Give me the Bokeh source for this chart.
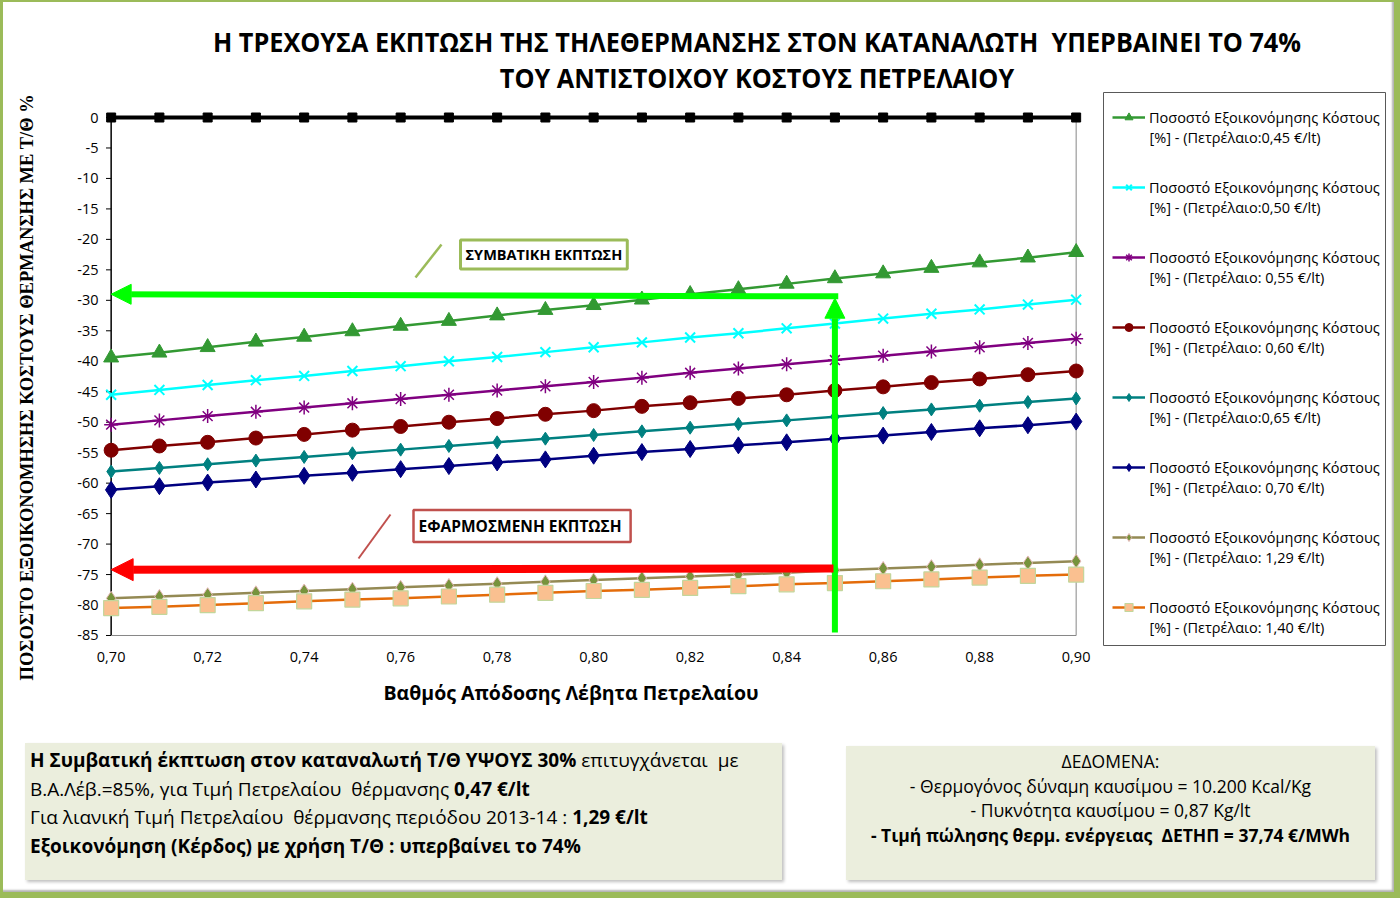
from bokeh.plotting import figure
from bokeh.models import (ColumnDataSource, Legend, LegendItem, Arrow, NormalHead, Label,
                          FixedTicker, Div, Range1d, Title)
from bokeh.layouts import column, row
from bokeh.embed import file_html
from bokeh.resources import INLINE

# ---------------- data ----------------
efficiency = [0.70, 0.71, 0.72, 0.73, 0.74, 0.75, 0.76, 0.77, 0.78, 0.79, 0.80,
              0.81, 0.82, 0.83, 0.84, 0.85, 0.86, 0.87, 0.88, 0.89, 0.90]
zero_ref = [0, 0, 0, 0, 0, 0, 0, 0, 0, 0, 0, 0, 0, 0, 0, 0, 0, 0, 0, 0, 0]
s045 = [-39.4, -38.6, -37.7, -36.8, -36.0, -35.1, -34.2, -33.4, -32.5, -31.6, -30.8,
        -29.9, -29.0, -28.2, -27.3, -26.4, -25.6, -24.7, -23.8, -23.0, -22.1]
s050 = [-45.5, -44.7, -43.9, -43.1, -42.4, -41.6, -40.8, -40.0, -39.3, -38.5, -37.7,
        -36.9, -36.1, -35.4, -34.6, -33.8, -33.0, -32.2, -31.5, -30.7, -29.9]
s055 = [-50.4, -49.7, -49.0, -48.3, -47.6, -46.9, -46.2, -45.5, -44.8, -44.1, -43.4,
        -42.7, -41.9, -41.2, -40.5, -39.8, -39.1, -38.4, -37.7, -37.0, -36.3]
s060 = [-54.6, -53.9, -53.3, -52.6, -52.0, -51.3, -50.7, -50.0, -49.4, -48.7, -48.1,
        -47.4, -46.8, -46.1, -45.5, -44.8, -44.2, -43.5, -42.9, -42.2, -41.6]
s065 = [-58.1, -57.5, -56.9, -56.3, -55.7, -55.1, -54.5, -53.9, -53.3, -52.7, -52.1,
        -51.5, -50.9, -50.3, -49.7, -49.1, -48.5, -47.9, -47.3, -46.7, -46.1]
s070 = [-61.1, -60.5, -59.9, -59.4, -58.8, -58.3, -57.7, -57.2, -56.6, -56.1, -55.5,
        -54.9, -54.4, -53.8, -53.3, -52.7, -52.2, -51.6, -51.0, -50.5, -49.9]
s129 = [-78.9, -78.6, -78.3, -78.0, -77.7, -77.4, -77.1, -76.8, -76.5, -76.2, -75.9,
        -75.6, -75.3, -75.0, -74.7, -74.3, -74.0, -73.7, -73.4, -73.1, -72.8]
s140 = [-80.5, -80.3, -80.0, -79.7, -79.4, -79.1, -78.9, -78.6, -78.3, -78.0, -77.7,
        -77.5, -77.2, -76.9, -76.6, -76.4, -76.1, -75.8, -75.5, -75.2, -75.0]

legend_line1 = "Ποσοστό Εξοικονόμησης Κόστους"
legend_line2 = ["[%] - (Πετρέλαιο:0,45 €/lt)", "[%] - (Πετρέλαιο:0,50 €/lt)",
                "[%] - (Πετρέλαιο: 0,55 €/lt)", "[%] - (Πετρέλαιο: 0,60 €/lt)",
                "[%] - (Πετρέλαιο:0,65 €/lt)", "[%] - (Πετρέλαιο: 0,70 €/lt)",
                "[%] - (Πετρέλαιο: 1,29 €/lt)", "[%] - (Πετρέλαιο: 1,40 €/lt)"]

x_ticks = [0.70, 0.72, 0.74, 0.76, 0.78, 0.80, 0.82, 0.84, 0.86, 0.88, 0.90]
x_tick_labels = ["0,70", "0,72", "0,74", "0,76", "0,78", "0,80", "0,82", "0,84",
                 "0,86", "0,88", "0,90"]
y_ticks = [0, -5, -10, -15, -20, -25, -30, -35, -40, -45, -50, -55, -60, -65, -70,
           -75, -80, -85]
y_tick_labels = ["0", "-5", "-10", "-15", "-20", "-25", "-30", "-35", "-40", "-45",
                 "-50", "-55", "-60", "-65", "-70", "-75", "-80", "-85"]

# annotation anchors (data units)
ref_eff = 0.85
conventional_level = [-29.35, -29.0]   # right end, left end
applied_level = [-74.0, -74.2]
arrow_bottom = -84.5

TITLE1 = "Η ΤΡΕΧΟΥΣΑ ΕΚΠΤΩΣΗ ΤΗΣ ΤΗΛΕΘΕΡΜΑΝΣΗΣ ΣΤΟΝ ΚΑΤΑΝΑΛΩΤΗ  ΥΠΕΡΒΑΙΝΕΙ ΤΟ 74%"
TITLE2 = "ΤΟΥ ΑΝΤΙΣΤΟΙΧΟΥ ΚΟΣΤΟΥΣ ΠΕΤΡΕΛΑΙΟΥ"
XLABEL = "Βαθμός Απόδοσης Λέβητα Πετρελαίου"
YLABEL = "ΠΟΣΟΣΤΟ ΕΞΟΙΚΟΝΟΜΗΣΗΣ ΚΟΣΤΟΥΣ  ΘΕΡΜΑΝΣΗΣ ΜΕ Τ/Θ %"

FONT = "Open Sans"

# ---------------- geometry (page pixels -> data) ----------------
X0, PX_PER_X = 0.698, 4825.0      # frame left value, px per unit
FRAME_LEFT_PX = 101
FRAME_BOTTOM_PX = 648
Y_TOP_PX, PX_PER_Y = 117, 6.0941  # page px of value 0, px per unit


def px_x(X):
    return X0 + (X - FRAME_LEFT_PX) / PX_PER_X


def px_y(Y):
    return (Y_TOP_PX - Y) / PX_PER_Y


FIG_W, FIG_H = 1384, 647
p = figure(width=FIG_W, height=FIG_H, output_backend="svg", toolbar_location=None,
           x_range=Range1d(X0, X0 + 1291 / PX_PER_X),
           y_range=Range1d(px_y(FRAME_BOTTOM_PX), px_y(88)),
           min_border_left=93, min_border_right=0, min_border_top=0,
           min_border_bottom=87, margin=0)
p.outline_line_color = None
p.xgrid.visible = False
p.ygrid.visible = False
p.background_fill_color = "white"
p.border_fill_color = "white"

# x axis
xa = p.xaxis[0]
xa.ticker = FixedTicker(ticks=x_ticks)
xa.major_label_overrides = dict(zip(x_ticks, x_tick_labels))
xa.axis_line_color = None
xa.major_tick_line_color = None
xa.major_tick_out = 0
xa.major_tick_in = 0
xa.minor_tick_line_color = None
xa.major_label_standoff = 3
xa.major_label_text_font = FONT
xa.major_label_text_font_size = "14.5px"
xa.major_label_text_color = "black"

# y axis
ya = p.yaxis[0]
ya.ticker = FixedTicker(ticks=y_ticks)
ya.major_label_overrides = dict(zip(y_ticks, y_tick_labels))
ya.axis_line_color = None
ya.major_tick_line_color = None
ya.major_tick_out = 0
ya.major_tick_in = 0
ya.minor_tick_line_color = None
ya.major_label_standoff = 3
ya.major_label_text_font = FONT
ya.major_label_text_font_size = "14.5px"
ya.major_label_text_color = "black"

# axis titles (placed in the side panels so they can sit off-centre like the original)
xtitle = Title(text=XLABEL, align="left", offset=383 - FRAME_LEFT_PX,
               text_font=FONT, text_font_style="bold", text_font_size="19.5px",
               text_color="black")
if "standoff" in Title.properties():
    xtitle.standoff = xtitle.standoff + 15
p.add_layout(xtitle, "below")
p.add_layout(Title(text=" ", text_font_size="19px"), "left")    # gap before y title
p.add_layout(Title(text=YLABEL, align="left", offset=-(680 - FRAME_BOTTOM_PX),
                   text_font="Liberation Serif", text_font_style="bold",
                   text_font_size="18.5px", text_color="black"), "left")

# legend frame (drawn first, under everything)
p.quad(left=[px_x(1103)], right=[px_x(1385)], top=[px_y(92)], bottom=[px_y(645)],
       fill_color="white", line_color="#595959", line_width=1)

# chart frame: left axis line, tick marks, bottom and right borders
p.segment(x0=[x_ticks[0]], y0=[y_ticks[-1]], x1=[x_ticks[0]], y1=[y_ticks[0]],
          line_color="black", line_width=1.5)
p.segment(x0=[px_x(105.5)] * len(y_ticks), y0=y_ticks,
          x1=[x_ticks[0]] * len(y_ticks), y1=y_ticks, line_color="black", line_width=1)
p.segment(x0=[x_ticks[0]], y0=[y_ticks[-1]], x1=[x_ticks[-1]], y1=[y_ticks[-1]],
          line_color="#868686", line_width=1)
p.segment(x0=[x_ticks[-1]], y0=[y_ticks[-1]], x1=[x_ticks[-1]], y1=[y_ticks[0]],
          line_color="#868686", line_width=1)

# zero reference line
zsrc = ColumnDataSource(dict(x=efficiency, y=zero_ref))
p.line("x", "y", source=zsrc, line_color="black", line_width=4)
p.scatter("x", "y", source=zsrc, marker="square", size=9, fill_color="black",
          line_color="black")

series = [
    (s045, "#339933", "triangle", 15, "#339933", "#339933", 1),
    (s050, "#00FFFF", "x", 14, "#00FFFF", "#00FFFF", 2),
    (s055, "#800080", "asterisk", 14, "#800080", "#800080", 1.5),
    (s060, "#800000", "circle", 14, "#800000", "#800000", 1),
    (s065, "#008080", "diamond", 13, "#008080", "#008080", 1),
    (s070, "#000080", "diamond", 17, "#000080", "#000080", 1),
    (s129, "#948A54", "diamond", 14, "#77933C", "#E6B9B8", 1),
    (s140, "#E46C0A", "square", 15, "#FAC090", "#C3D69B", 1.2),
]

items = []
for (vals, lc, mk, sz, fc, mlc, mlw) in series:
    src = ColumnDataSource(dict(x=efficiency, y=vals))
    ln = p.line("x", "y", source=src, line_color=lc, line_width=2.5)
    sc = p.scatter("x", "y", source=src, marker=mk, size=sz, fill_color=fc,
                   line_color=mlc, line_width=mlw)
    items.append(LegendItem(label=legend_line1, renderers=[ln, sc]))

# legend: items every 70 px, first line centred at page y 117
legend = Legend(items=items, location=(1112 - FRAME_LEFT_PX, FRAME_BOTTOM_PX - 617),
                margin=0, padding=0, spacing=50, label_height=20, glyph_height=20,
                glyph_width=33, label_standoff=4, label_text_font=FONT,
                label_text_font_size="14.5px", label_text_color="black",
                border_line_color=None, background_fill_alpha=0)
p.add_layout(legend)

# second line of every legend entry
for i, txt in enumerate(legend_line2):
    p.add_layout(Label(x=px_x(1149), y=px_y(137 + 70 * i), text=txt, text_font=FONT,
                       text_font_size="14.5px", text_baseline="middle",
                       text_align="left", text_color="black"))

# arrows
green = "#00FF00"
p.add_layout(Arrow(end=NormalHead(size=20, fill_color=green, line_color=green),
                   x_start=ref_eff, y_start=arrow_bottom, x_end=ref_eff,
                   y_end=conventional_level[0] - 0.3,
                   line_color=green, line_width=6))
p.add_layout(Arrow(end=NormalHead(size=20, fill_color=green, line_color=green),
                   x_start=ref_eff + 0.0007, y_start=conventional_level[0],
                   x_end=efficiency[0], y_end=conventional_level[1],
                   line_color=green, line_width=6))
p.add_layout(Arrow(end=NormalHead(size=22, fill_color="#FF0000", line_color="#FF0000"),
                   x_start=ref_eff - 0.0003, y_start=applied_level[0],
                   x_end=efficiency[0], y_end=applied_level[1],
                   line_color="#FF0000", line_width=8))

# leader lines
p.add_layout(Arrow(end=None, x_start=px_x(415), y_start=px_y(277), x_end=px_x(441),
                   y_end=px_y(244), line_color="#9BBB59", line_width=2.5))
p.add_layout(Arrow(end=None, x_start=px_x(358), y_start=px_y(558), x_end=px_x(390),
                   y_end=px_y(514), line_color="#C0504D", line_width=2))

p.add_layout(Label(x=px_x(460), y=px_y(254), text="ΣΥΜΒΑΤΙΚΗ ΕΚΠΤΩΣΗ", text_font=FONT,
                   text_font_style="bold", text_font_size="14.5px",
                   text_baseline="middle", text_align="left", text_color="black",
                   padding=5, border_line_color="#9BBB59", border_line_width=3,
                   background_fill_color="white"))
p.add_layout(Label(x=px_x(413), y=px_y(525.5), text="ΕΦΑΡΜΟΣΜΕΝΗ  ΕΚΠΤΩΣΗ", text_font=FONT,
                   text_font_style="bold", text_font_size="15.5px",
                   text_baseline="middle", text_align="left", text_color="black",
                   padding=5, border_line_color="#C0504D", border_line_width=2.5,
                   background_fill_color="white"))

# ---------------- html blocks ----------------
tline = ('<div style="transform:scale(0.87,0.91);">%s</div>')
title_html = (
    '<div style="width:1384px;height:80px;box-sizing:border-box;padding:16px 0 0 114px;'
    'text-align:center;font-family:\'Open Sans\',sans-serif;font-weight:bold;'
    'font-size:29px;line-height:36px;color:#000;white-space:pre;">'
    + tline % TITLE1 + tline % TITLE2 + '</div>')
title_div = Div(text=title_html, width=1384, height=80, margin=0)

box_bg = "#EBEEDD"
left_html = (
    '<div style="width:757px;height:137px;box-sizing:border-box;background:' + box_bg + ';'
    'box-shadow:2px 2px 3px rgba(0,0,0,0.25);padding:3px 0 0 5px;font-family:\'Open Sans\';'
    'font-size:19px;line-height:28.67px;color:#000;white-space:pre;">'
    '<b>Η Συμβατική έκπτωση στον καταναλωτή Τ/Θ ΥΨΟΥΣ 30%</b> επιτυγχάνεται  με<br>'
    'Β.Α.Λέβ.=85%, για Τιμή Πετρελαίου  θέρμανσης <b>0,47 €/lt</b><br>'
    'Για λιανική Τιμή Πετρελαίου  θέρμανσης περιόδου 2013-14 : <b>1,29 €/lt</b><br>'
    '<b>Εξοικονόμηση (Κέρδος) με χρήση Τ/Θ : υπερβαίνει το 74%</b></div>')
left_div = Div(text=left_html, width=757, height=137, margin=(8, 0, 0, 17))

right_html = (
    '<div style="width:529px;height:134px;box-sizing:border-box;background:' + box_bg + ';'
    'box-shadow:2px 2px 3px rgba(0,0,0,0.25);padding-top:3px;text-align:center;'
    'font-family:\'Open Sans\';font-size:17.5px;line-height:24.5px;color:#000;white-space:pre;">'
    'ΔΕΔΟΜΕΝΑ:<br>- Θερμογόνος δύναμη καυσίμου = 10.200 Kcal/Kg<br>'
    '- Πυκνότητα καυσίμου = 0,87 Kg/lt<br>'
    '<b>- Τιμή πώλησης θερμ. ενέργειας  ΔΕΤΗΠ = 37,74 €/MWh</b></div>')
right_div = Div(text=right_html, width=529, height=134, margin=(11, 0, 0, 64))

layout = column(title_div, p, row(left_div, right_div, margin=0), margin=(8, 0, 0, 8))

html = file_html(layout, INLINE)
page_css = ('<style>html,body{margin:0 !important;padding:0 !important;}'
            'body::before{content:"";position:fixed;left:0;top:0;right:0;bottom:0;'
            'border-style:solid;border-color:#9BBB59;border-width:2px 6px 6px 3px;'
            'box-shadow:inset -2px -2px 2px rgba(0,0,0,0.3);pointer-events:none;'
            'z-index:10;}</style>')
html = html.replace("</head>", page_css + "</head>", 1)
open("out.html", "w").write(html)
